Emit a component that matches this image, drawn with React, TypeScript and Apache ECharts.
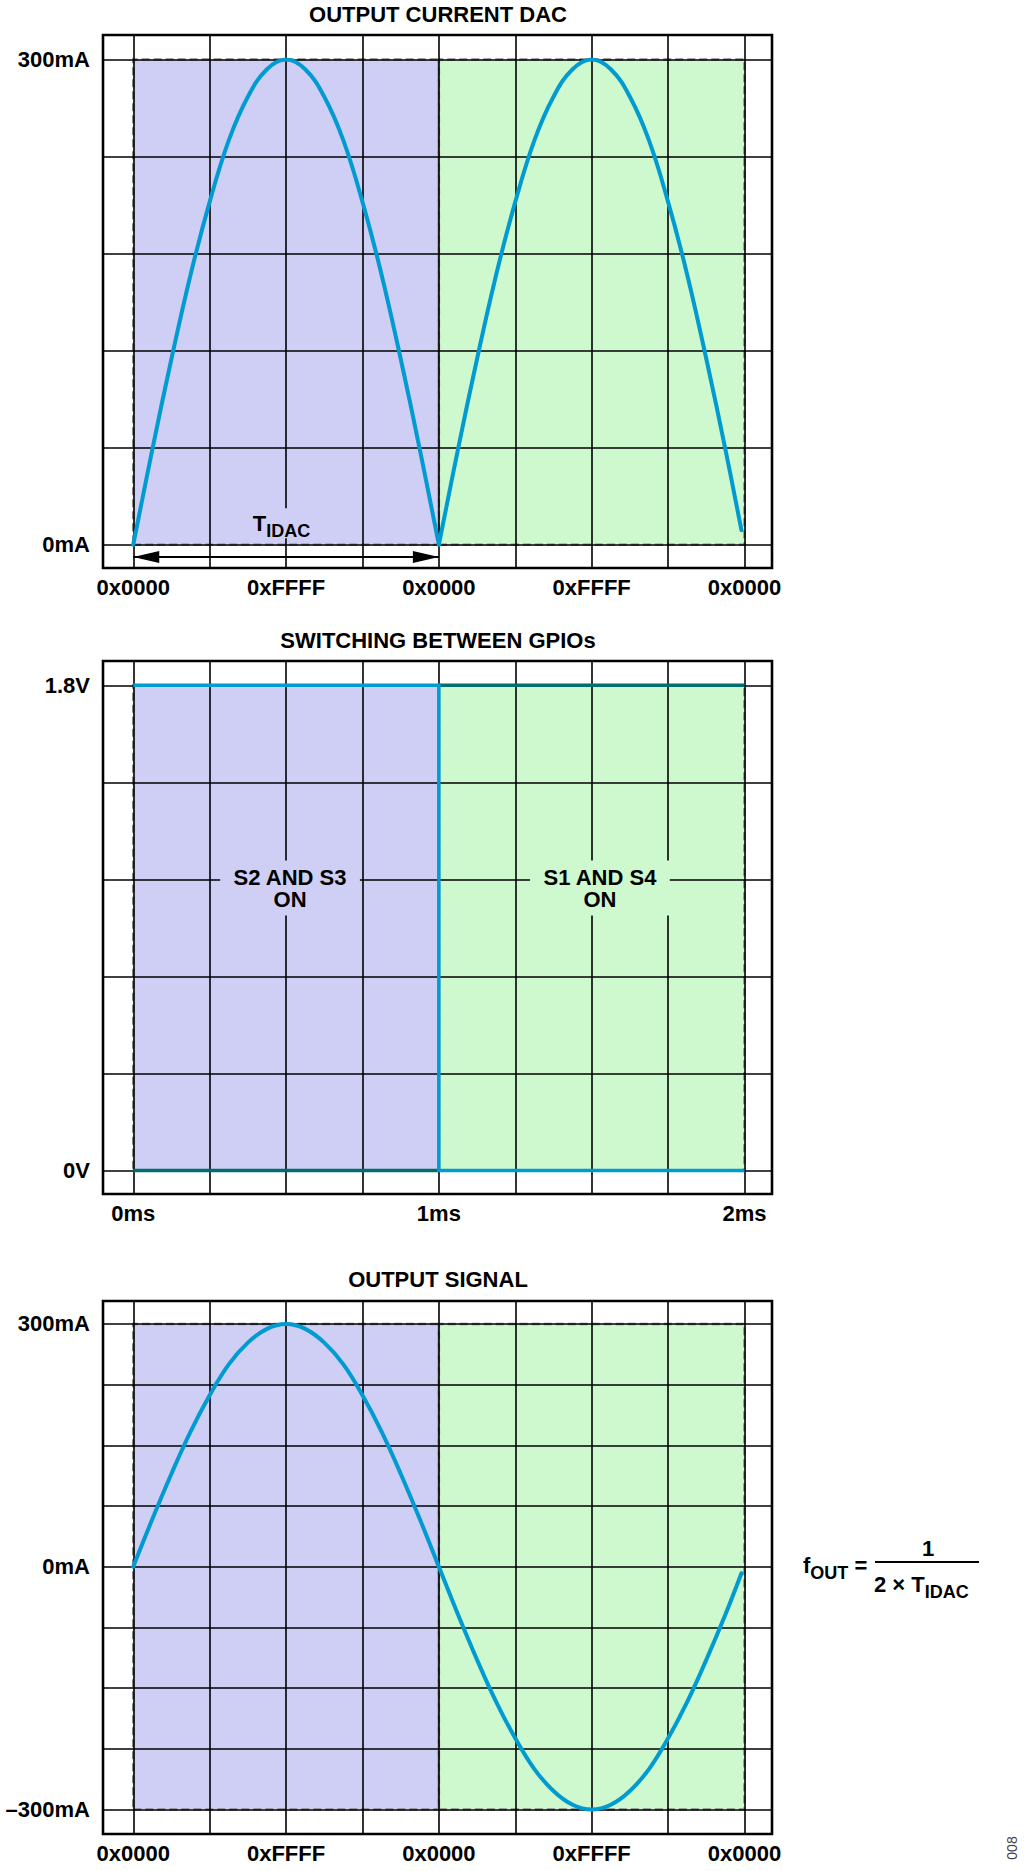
import React, { useEffect, useRef } from 'react';
import * as echarts from 'echarts';

// ---- data (time axis in ms; one DAC half-cycle = 1 ms) ----
const timeMs = [
  0, 0.0625, 0.125, 0.1875, 0.25, 0.3125, 0.375, 0.4375, 0.5, 0.5625, 0.625, 0.6875, 0.75, 0.8125, 0.875, 0.9375,
  1, 1.0625, 1.125, 1.1875, 1.25, 1.3125, 1.375, 1.4375, 1.5, 1.5625, 1.625, 1.6875, 1.75, 1.8125, 1.875, 1.9375, 1.99,
];
const dacCurrentMa = [
  0, 59, 115, 167, 212, 250, 277, 294, 300, 294, 277, 250, 212, 167, 115, 59,
  0, 59, 115, 167, 212, 250, 277, 294, 300, 294, 277, 250, 212, 167, 115, 59, 9,
];
const outputSignalMa = [
  0, 59, 115, 167, 212, 250, 277, 294, 300, 294, 277, 250, 212, 167, 115, 59,
  0, -59, -115, -167, -212, -250, -277, -294, -300, -294, -277, -250, -212, -167, -115, -59, -8,
];

const gpioTimeMs = [0, 1, 1, 2];
const gpioS2S3Volts = [1.8, 1.8, 0, 0];
const gpioLowTimeMs = [0, 1];
const gpioLowVolts = [0, 0];
const gpioHighTimeMs = [1, 2];
const gpioHighVolts = [1.8, 1.8];

const phaseBoundsMs = [0, 1, 2];
const tidacSpanMs = [0, 1];
const tidacArrowMa = -7.6;

const codeTickValues = [0, 0.5, 1, 1.5, 2];
const codeTickLabels = ['0x0000', '0xFFFF', '0x0000', '0xFFFF', '0x0000'];
const timeTickValues = [0, 1, 2];
const timeTickLabels = ['0ms', '1ms', '2ms'];
const dacTickValues = [0, 300];
const dacTickLabels = ['0mA', '300mA'];
const gpioTickValues = [0, 1.8];
const gpioTickLabels = ['0V', '1.8V'];
const outTickValues = [-300, 0, 300];
const outTickLabels = ['\u2013300mA', '0mA', '300mA'];

const vGridMs = [0, 0.25, 0.5, 0.75, 1, 1.25, 1.5, 1.75, 2];
const dacGridMa = [0, 60, 120, 180, 240, 300];
const gpioGridV = [0, 0.36, 0.72, 1.08, 1.44, 1.8];
const outGridMa = [-300, -225, -150, -75, 0, 75, 150, 225, 300];

const titles = ['OUTPUT CURRENT DAC', 'SWITCHING BETWEEN GPIOs', 'OUTPUT SIGNAL'];

// ---- styles ----
const FONT = "'Liberation Sans', Arial, Helvetica, sans-serif";
const BLUE = '#009BD0';
const TEAL = '#006E6E';
const PURPLE = '#CFCEF5';
const GREEN = '#CEF8CE';

const zip = (xs: number[], ys: number[]) => xs.map((x, i) => [x, ys[i]]);

const labelText = { fontSize: 22, fontWeight: 'bold' as const, fontFamily: FONT, color: '#000', lineHeight: 22 };

// subscript styles: main token 26px line, subscript pushed down by top padding
const richMain = { fontSize: 22, fontWeight: 'bold', fontFamily: FONT, color: '#000', fill: '#000', lineHeight: 26 };
const richSub = {
  fontSize: 18, fontWeight: 'bold', fontFamily: FONT, color: '#000', fill: '#000',
  lineHeight: 14, padding: [12, 0, 0, 0], verticalAlign: 'top',
};

function xAxis(gridIndex: number, values: number[], labels: string[]) {
  return {
    type: 'value', gridIndex, min: -0.099, max: 2.09,
    axisLine: { show: false, onZero: false }, axisTick: { show: false }, splitLine: { show: false },
    axisLabel: {
      ...labelText, margin: 8, customValues: values,
      formatter: (v: number) => labels[values.findIndex((t) => Math.abs(t - v) < 1e-9)] ?? '',
    },
  };
}
function yAxis(gridIndex: number, min: number, max: number, values: number[], labels: string[]) {
  return {
    type: 'value', gridIndex, min, max,
    axisLine: { show: false, onZero: false }, axisTick: { show: false }, splitLine: { show: false },
    axisLabel: {
      ...labelText, margin: 13, customValues: values,
      formatter: (v: number) => labels[values.findIndex((t) => Math.abs(t - v) < 1e-9)] ?? '',
    },
  };
}

function frameSeries(idx: number, yLo: number, yHi: number, hGrid: number[]) {
  return {
    type: 'line', xAxisIndex: idx, yAxisIndex: idx, data: [], silent: true, z: 1,
    markArea: {
      silent: true, z: 1,
      label: { show: false },
      itemStyle: { borderColor: '#858585', borderWidth: 2.5, borderType: [8, 4], opacity: 1 },
      data: [
        [{ xAxis: phaseBoundsMs[0], yAxis: yLo, itemStyle: { color: PURPLE } }, { xAxis: phaseBoundsMs[1], yAxis: yHi }],
        [{ xAxis: phaseBoundsMs[1], yAxis: yLo, itemStyle: { color: GREEN } }, { xAxis: phaseBoundsMs[2], yAxis: yHi }],
      ],
    },
    markLine: {
      silent: true, z: 2, symbol: ['none', 'none'], label: { show: false },
      lineStyle: { color: '#000', width: 1.6, type: 'solid', opacity: 1 },
      emphasis: { disabled: true },
      data: [...vGridMs.map((v) => ({ xAxis: v })), ...hGrid.map((v) => ({ yAxis: v }))],
    },
  };
}

function curve(idx: number, data: number[][], color: string) {
  return {
    type: 'line', xAxisIndex: idx, yAxisIndex: idx, data, silent: true, z: 3,
    showSymbol: false, symbol: 'none', smooth: 0.4,
    lineStyle: { color, width: 4, cap: 'round', join: 'round' },
  };
}

function stepLine(idx: number, data: number[][], color: string, z: number) {
  return {
    type: 'line', xAxisIndex: idx, yAxisIndex: idx, data, silent: true, z,
    showSymbol: false, symbol: 'none',
    lineStyle: { color, width: 3.5, cap: 'butt', join: 'miter' },
  };
}

const option: any = {
  animation: false,
  backgroundColor: '#fff',
  title: titles.map((t, i) => ({
    text: t, left: 438, top: [3.5, 629, 1268][i], textAlign: 'center', padding: 0,
    textStyle: { fontSize: 22, fontWeight: 'bold', fontFamily: FONT, color: '#000', lineHeight: 22 },
  })),
  grid: [35, 661, 1301].map((top) => ({
    left: 103, width: 669, top, height: 533, show: true,
    borderColor: '#000', borderWidth: 2.6, backgroundColor: 'transparent', containLabel: false,
  })),
  xAxis: [
    xAxis(0, codeTickValues, codeTickLabels),
    xAxis(1, timeTickValues, timeTickLabels),
    xAxis(2, codeTickValues, codeTickLabels),
  ],
  yAxis: [
    yAxis(0, -14.4, 315.2, dacTickValues, dacTickLabels),
    yAxis(1, -0.087, 1.89, gpioTickValues, gpioTickLabels),
    yAxis(2, -330.2, 328.4, outTickValues, outTickLabels),
  ],
  series: [
    // chart 1
    frameSeries(0, 0, 300, dacGridMa),
    curve(0, zip(timeMs.slice(0, 17), dacCurrentMa.slice(0, 17)), BLUE),
    curve(0, zip(timeMs.slice(16), dacCurrentMa.slice(16)), BLUE),
    {
      type: 'line', xAxisIndex: 0, yAxisIndex: 0, silent: true, z: 3, showSymbol: false, symbol: 'none',
      data: tidacSpanMs.map((t) => [t, tidacArrowMa]),
      lineStyle: { color: '#000', width: 2 },
    },
    {
      type: 'scatter', xAxisIndex: 0, yAxisIndex: 0, silent: true, z: 3, symbol: 'triangle', symbolSize: [12, 26],
      itemStyle: { color: '#000', opacity: 1 },
      data: [
        { value: [tidacSpanMs[0], tidacArrowMa], symbolRotate: 90, symbolOffset: [13, 0] },
        { value: [tidacSpanMs[1], tidacArrowMa], symbolRotate: -90, symbolOffset: [-13, 0] },
      ],
    },
    {
      type: 'scatter', xAxisIndex: 0, yAxisIndex: 0, silent: true, z: 4, symbolSize: 1,
      itemStyle: { color: 'transparent', opacity: 1 },
      data: [[0.485, 13.3]],
      label: {
        show: true, position: 'inside', formatter: '{t|T}{s|IDAC}', color: '#000', opacity: 1, textBorderWidth: 0,
        backgroundColor: PURPLE, padding: [2, 6, 2, 6],
        rich: { t: richMain, s: richSub },
      },
    },
    // chart 2
    frameSeries(1, 0, 1.8, gpioGridV),
    stepLine(1, zip(gpioLowTimeMs, gpioLowVolts), TEAL, 3),
    stepLine(1, zip(gpioHighTimeMs, gpioHighVolts), TEAL, 3),
    stepLine(1, zip(gpioTimeMs, gpioS2S3Volts), BLUE, 3.5),
    {
      type: 'scatter', xAxisIndex: 1, yAxisIndex: 1, silent: true, z: 4, symbolSize: 1,
      itemStyle: { color: 'transparent', opacity: 1 },
      label: {
        show: true, position: 'inside', textBorderWidth: 0, ...labelText, color: '#000', opacity: 1, align: 'center',
        padding: [6, 13, 5, 13],
      },
      data: [
        { value: [0.513, 1.048], label: { formatter: 'S2 AND S3\nON', backgroundColor: PURPLE, color: '#000' } },
        { value: [1.527, 1.048], label: { formatter: 'S1 AND S4\nON', backgroundColor: GREEN, color: '#000' } },
      ],
    },
    // chart 3
    frameSeries(2, -300, 300, outGridMa),
    curve(2, zip(timeMs, outputSignalMa), BLUE),
  ],
  graphic: [
    {
      type: 'text', x: 803, y: 1565, silent: true,
      style: {
        text: '{m|f}{s|OUT}{m| =}', align: 'left', verticalAlign: 'middle', textAlign: 'left', textVerticalAlign: 'middle',
        rich: { m: richMain, s: richSub },
      },
    },
    {
      type: 'text', x: 928, y: 1548, silent: true,
      style: {
        text: '1', fontSize: 22, fontWeight: 'bold', fontFamily: FONT, fill: '#000',
        align: 'center', verticalAlign: 'middle', textAlign: 'center', textVerticalAlign: 'middle',
      },
    },
    {
      type: 'line', silent: true,
      shape: { x1: 875, y1: 1562, x2: 979, y2: 1562 },
      style: { stroke: '#000', lineWidth: 2 },
    },
    {
      type: 'text', x: 874, y: 1584, silent: true,
      style: {
        text: '{m|2 \u00d7 T}{s|IDAC}', align: 'left', verticalAlign: 'middle', textAlign: 'left', textVerticalAlign: 'middle',
        rich: { m: richMain, s: richSub },
      },
    },
    {
      type: 'text', x: 1012, y: 1848, rotation: Math.PI / 2, silent: true,
      style: {
        text: '008', fontSize: 14, fontFamily: FONT, fill: '#444',
        align: 'center', verticalAlign: 'middle', textAlign: 'center', textVerticalAlign: 'middle',
      },
    },
  ],
};

export default function App() {
  const ref = useRef<HTMLDivElement>(null);
  useEffect(() => {
    const chart = echarts.init(ref.current as HTMLDivElement, null, { renderer: 'svg' });
    chart.setOption(option);
    return () => chart.dispose();
  }, []);
  return (
    <div
      ref={ref}
      style={{ position: 'absolute', left: 0, top: 0, width: 1024, height: 1871, background: '#fff' }}
    />
  );
}
